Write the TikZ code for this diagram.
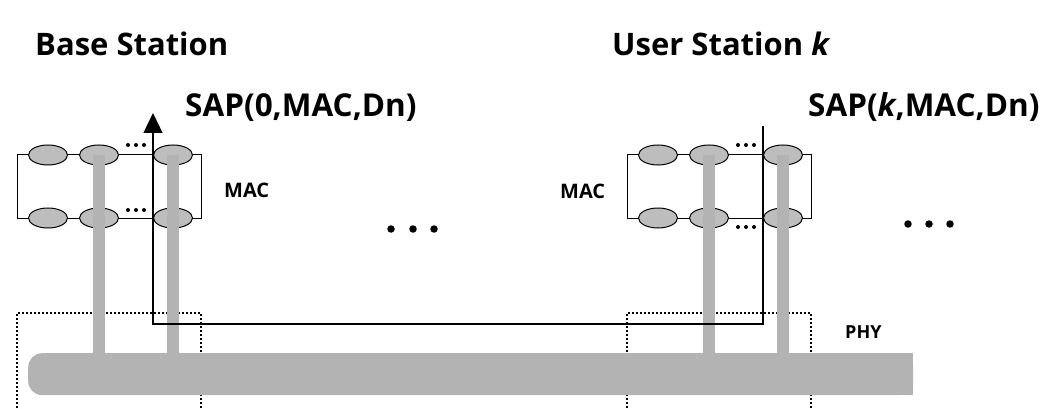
\documentclass[tikz,border=0pt]{standalone}
\usepackage{fontspec}
\setmainfont{Open Sans}
\usetikzlibrary{
  shapes.geometric,
  arrows.meta,
  positioning,
  calc,
  backgrounds
}
\definecolor{busgray}{HTML}{B3B3B3}
\definecolor{ellgray}{HTML}{BDBDBD}
\definecolor{darktext}{HTML}{000000}

\begin{document}
\begin{tikzpicture}[
    x=1pt, y=-1pt,
    node distance=42pt and 11pt,
    every node/.style={font=\bfseries, text=darktext},
    entity/.style={ellipse, draw=darktext, fill=ellgray, line width=1pt,
                   minimum width=39pt, minimum height=20pt, inner sep=0pt},
    titletext/.style={font=\fontsize{31}{36}\selectfont\bfseries, anchor=base west, inner sep=0pt},
    saplabel/.style={font=\fontsize{31.5}{36}\selectfont\bfseries, anchor=base west, inner sep=0pt},
    layerlabel/.style={font=\fontsize{20}{24}\selectfont\bfseries, anchor=base west, inner sep=0pt},
    macframe/.style={line width=1pt, darktext},
    phybox/.style={line width=1.6pt, dash pattern=on 2pt off 2pt, darktext},
    tapbar/.style={line width=12pt, busgray},
    saproute/.style={line width=1.3pt, darktext},
    bigdot/.style={circle, fill=darktext, inner sep=0pt, minimum size=7.5pt},
    smalldot/.style={circle, fill=darktext, inner sep=0pt, minimum size=4pt},
]
\useasboundingbox (0,0) rectangle (1044,409);

% --- Base station MAC entities ---
\node[entity] (bA1) at (48,155) {};
\node[entity, right=of bA1] (bA2) {};
\node[entity, right=34pt of bA2] (bA3) {};
\node[entity, below=of bA1] (bB1) {};
\node[entity, below=of bA2] (bB2) {};
\node[entity, below=of bA3] (bB3) {};

% --- User station MAC entities ---
\node[entity] (uA1) at (658,155) {};
\node[entity, right=of uA1] (uA2) {};
\node[entity, right=34pt of uA2] (uA3) {};
\node[entity, below=of uA1] (uB1) {};
\node[entity, below=of uA2] (uB2) {};
\node[entity, below=of uA3] (uB3) {};

% --- Frame corners ---
\coordinate (bNW) at ($(bA1.west)+(-11,0)$);
\coordinate (bSE) at ($(bB3.east)+(8,0)$);
\coordinate (uNW) at ($(uA1.west)+(-11,0)$);
\coordinate (uSE) at ($(uB3.east)+(8,0)$);

\begin{scope}[on background layer]
  % MAC frames
  \draw[macframe] (bNW) rectangle (bSE);
  \draw[macframe] (uNW) rectangle (uSE);
  % PHY boxes
  \draw[phybox] (bNW |- 0,412) |- (bSE |- 0,313) -- (bSE |- 0,412);
  \draw[phybox] (uNW |- 0,412) |- (uSE |- 0,313) -- (uSE |- 0,412);
\end{scope}

% --- Small dots between entities ---
\foreach \dx [count=\i] in {-8,0,8} {
  \node[smalldot] (bdotA\i) at ($(bA2.east)!0.5!(bA3.west)+(\dx,-10)$) {};
  \node[smalldot] (bdotB\i) at ($(bB2.east)!0.5!(bB3.west)+(\dx,-8)$) {};
  \node[smalldot] (udotA\i) at ($(uA2.east)!0.5!(uA3.west)+(\dx,-10)$) {};
  \node[smalldot] (udotB\i) at ($(uB2.east)!0.5!(uB3.west)+(\dx,9)$) {};
}

% --- Big dots between stations ---
\foreach \x [count=\i] in {391,413,434}
  \node[bigdot] (gapdot\i) at (\x,229) {};
\foreach \x [count=\i] in {908,929,950}
  \node[bigdot] (enddot\i) at (\x,224) {};

% --- Shared medium ---
\node[fill=busgray, rounded corners=14pt, minimum width=885pt, minimum height=42pt,
      inner sep=0pt, anchor=north west] (bus) at (28,353) {};
\fill[busgray] ($(bus.north east)+(-20,0)$) rectangle (bus.south east);

% --- Taps to the medium ---
\draw[tapbar] (bA2.center) -- (bA2.center |- bus.north);
\draw[tapbar] (bA3.center) -- (bA3.center |- bus.north);
\draw[tapbar] (uA2.center) -- (uA2.center |- bus.north);
\draw[tapbar] (uA3.center) -- (uA3.center |- bus.north);

% --- SAP route ---
\coordinate (bsap) at (bA3.west |- 0,113);
\coordinate (usap) at (uA3.west |- 0,126);
\draw[saproute, -{Triangle[length=20pt, width=19pt]}] (usap) -- (usap |- 0,324) -| (bsap);

% --- Labels ---
\node[titletext] (basetitle) at (35,56) {Base Station};
\node[titletext] (usertitle) at (612,56) {User Station \textit{k}};
\node[saplabel] (sapbase) at (185,117) {SAP(0,MAC,Dn)};
\node[saplabel] (sapuser) at (808,117) {SAP(\textit{k},MAC,Dn)};
\node[layerlabel] (macbase) at (224,197) {MAC};
\node[layerlabel] (macuser) at (560,198) {MAC};
\node[layerlabel, font=\fontsize{18}{22}\selectfont\bfseries] (phy) at (845,338) {PHY};

\end{tikzpicture}
\end{document}
